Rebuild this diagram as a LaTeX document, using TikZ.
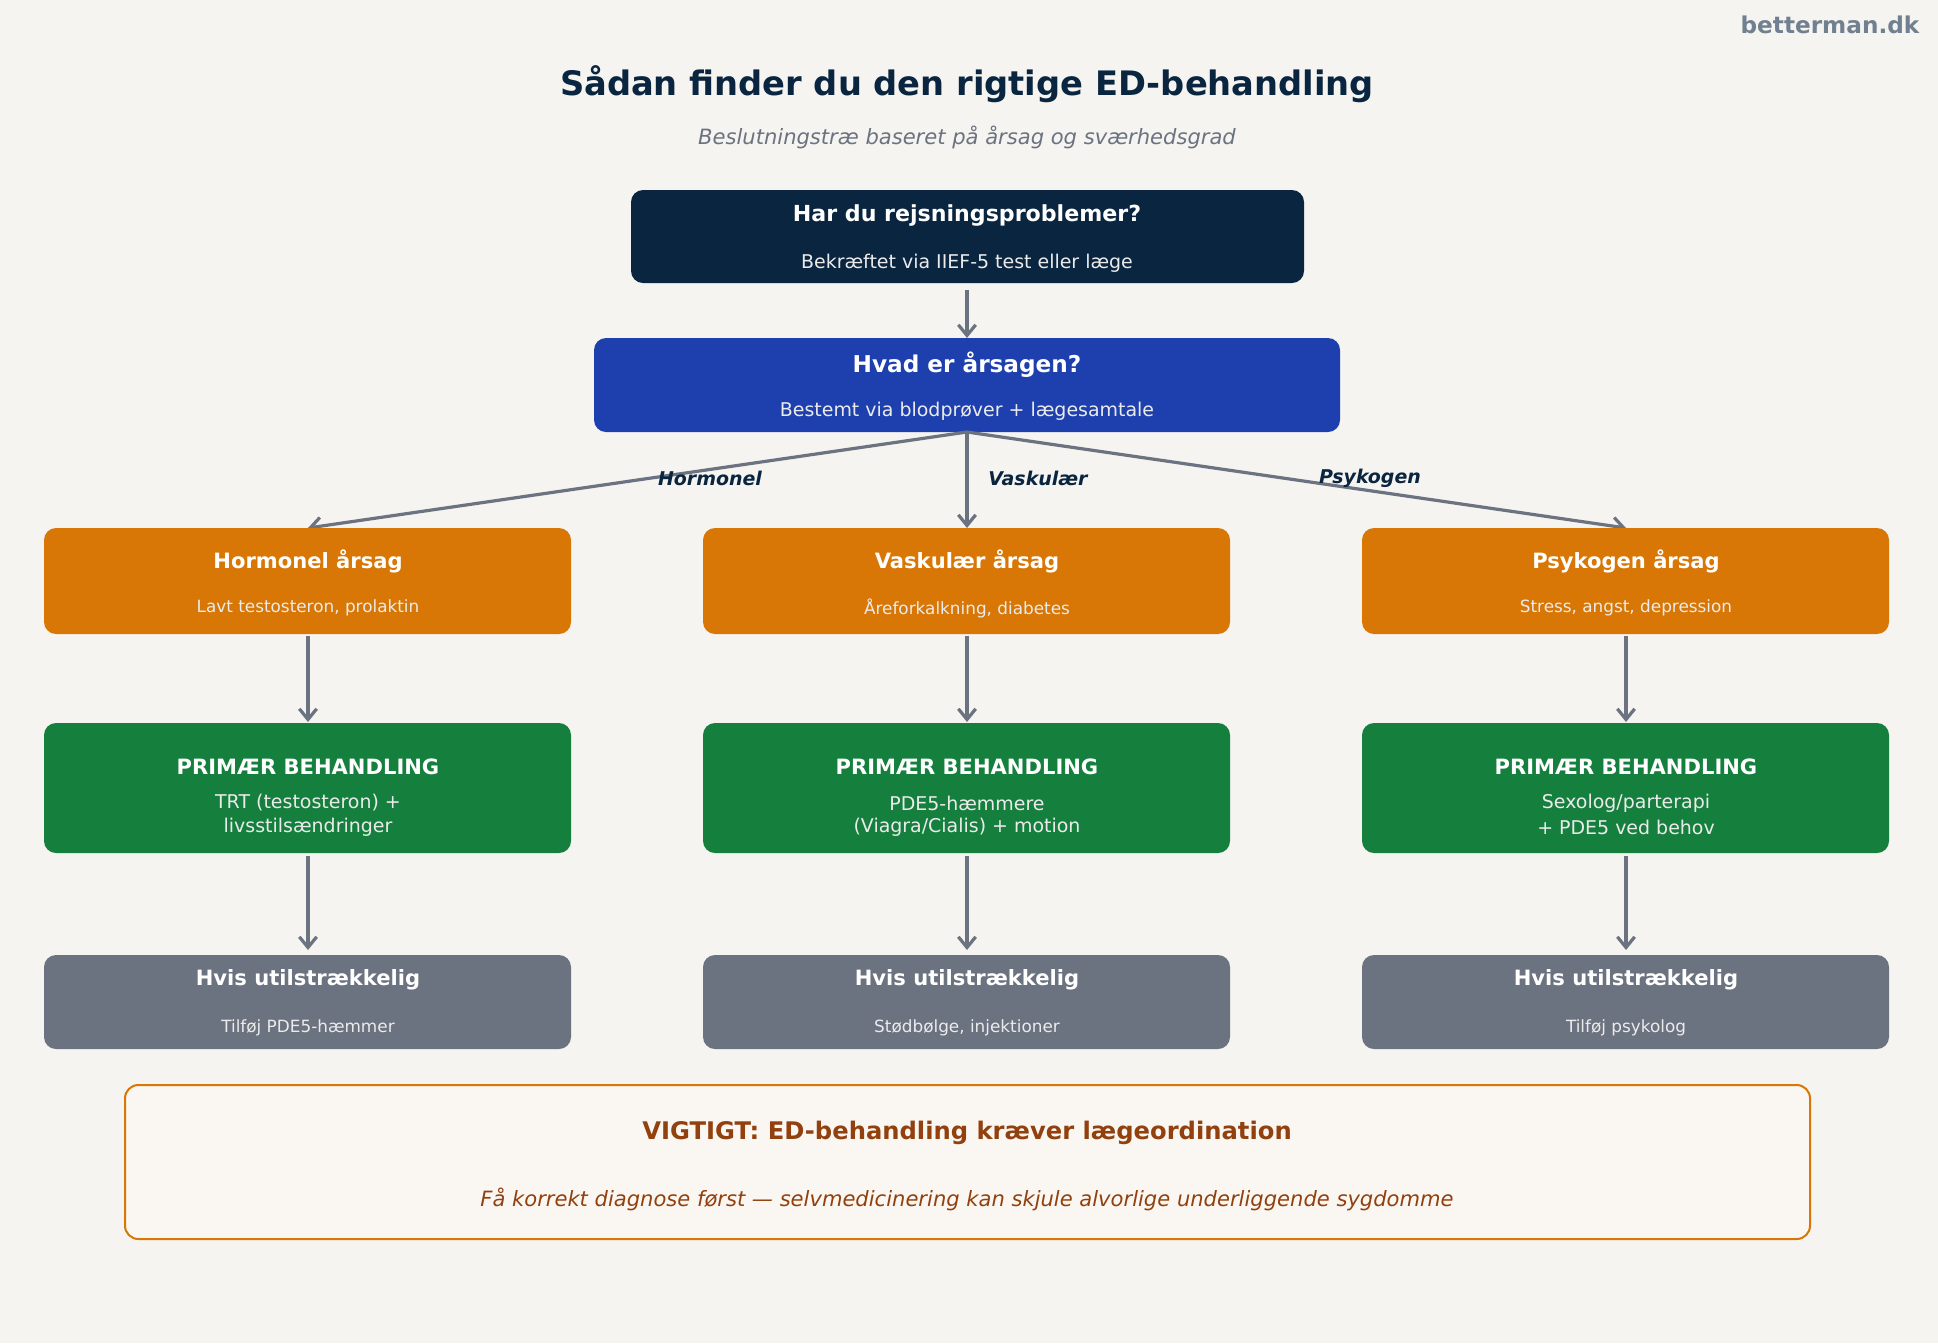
\documentclass[tikz,border=0pt]{standalone}
\usepackage{fontspec}
\setmainfont{DejaVu Sans}
\usetikzlibrary{arrows.meta}
\definecolor{bg}{HTML}{F5F4F0}
\definecolor{navy}{HTML}{0A2540}
\definecolor{blu}{HTML}{1E40AF}
\definecolor{org}{HTML}{D97706}
\definecolor{grn}{HTML}{15803D}
\definecolor{gry}{HTML}{6B7280}
\definecolor{brn}{HTML}{92400E}
\definecolor{wm}{HTML}{708090}
\definecolor{note}{HTML}{FAF7F2}
\newcommand{\fs}[1]{\fontsize{\fpeval{#1*0.79}}{\fpeval{#1*0.95}}\selectfont}
\begin{document}
\begin{tikzpicture}[x=0.75pt,y=-0.75pt,
  box/.style={draw=none,rounded corners=9pt},
  t/.style={text=white,font=\bfseries\fs{21}},
  s/.style={text=white!92!black,font=\fs{16}},
  arr/.style={draw=gry,line width=2.4pt,-{Straight Barb[length=8pt,width=13pt,line width=2.4pt]}},
  lab/.style={text=navy,font=\bfseries\itshape\fs{18}}]
\fill[bg] (0,0) rectangle (1938,1343);
\node[anchor=east,text=wm,font=\bfseries\fs{22}] (wm) at (1924,25) {betterman.dk};
\node[text=navy,font=\bfseries\fs{32}] (title) at (967,84) {Sådan finder du den rigtige ED-behandling};
\node[text=gry,font=\itshape\fs{20}] (sub) at (967,137) {Beslutningstræ baseret på årsag og sværhedsgrad};
% box 1
\fill[navy,box] (631,190) rectangle (1304,283);
\coordinate (b1) at (967,283);
\node[t] at (967,215) {Har du rejsningsproblemer?};
\node[s,font=\fs{18}] at (967,263) {Bekræftet via IIEF-5 test eller læge};
% box 2
\fill[blu,box] (594,338) rectangle (1340,432);
\coordinate (b2t) at (967,338);
\coordinate (b2) at (967,432);
\node[t,font=\bfseries\fs{22}] at (967,365) {Hvad er årsagen?};
\node[s,font=\fs{18}] at (967,411) {Bestemt via blodprøver + lægesamtale};
\draw[arr] (967,290) -- (b2t);
% rows
\foreach \cx/\a/\b/\c/\d/\e in {
 308/{Hormonel årsag}/{Lavt testosteron, prolaktin}/{TRT (testosteron) +}/{livsstilsændringer}/{Tilføj PDE5-hæmmer},
 967/{Vaskulær årsag}/{Åreforkalkning, diabetes}/{PDE5-hæmmere}/{(Viagra/Cialis) + motion}/{Stødbølge, injektioner},
 1626/{Psykogen årsag}/{Stress, angst, depression}/{Sexolog/parterapi}/{+ PDE5 ved behov}/{Tilføj psykolog}}{
  \draw[arr] (b2) -- (\cx,528);
  \fill[org,box] (\cx-264,528) rectangle (\cx+263,634);
  \node[t,font=\bfseries\fs{20}] at (\cx,561) {\a};
  \node[s] at (\cx,608) {\b};
  \fill[grn,box] (\cx-264,723) rectangle (\cx+263,853);
  \node[t,font=\bfseries\fs{20}] at (\cx,767) {PRIMÆR BEHANDLING};
  \node[s,font=\fs{18}] at (\cx,803) {\c};
  \node[s,font=\fs{18}] at (\cx,827) {\d};
  \fill[gry,box] (\cx-264,955) rectangle (\cx+263,1049);
  \node[t,font=\bfseries\fs{20}] at (\cx,980) {Hvis utilstrækkelig};
  \node[s] at (\cx,1028) {\e};
  \draw[arr] (\cx,636) -- (\cx,722);
  \draw[arr] (\cx,856) -- (\cx,950);
}
\node[lab] at (710,478) {Hormonel};
\node[lab] at (1038,478) {Vaskulær};
\node[lab] at (1370,478) {Psykogen};
% note
\draw[org,fill=note,line width=1.5pt,rounded corners=10pt] (125,1085) rectangle (1810,1239);
\node[text=brn,font=\bfseries\fs{23}] at (967,1133) {VIGTIGT: ED-behandling kræver lægeordination};
\node[text=brn,font=\itshape\fs{20}] at (967,1199) {Få korrekt diagnose først — selvmedicinering kan skjule alvorlige underliggende sygdomme};
\end{tikzpicture}
\end{document}
